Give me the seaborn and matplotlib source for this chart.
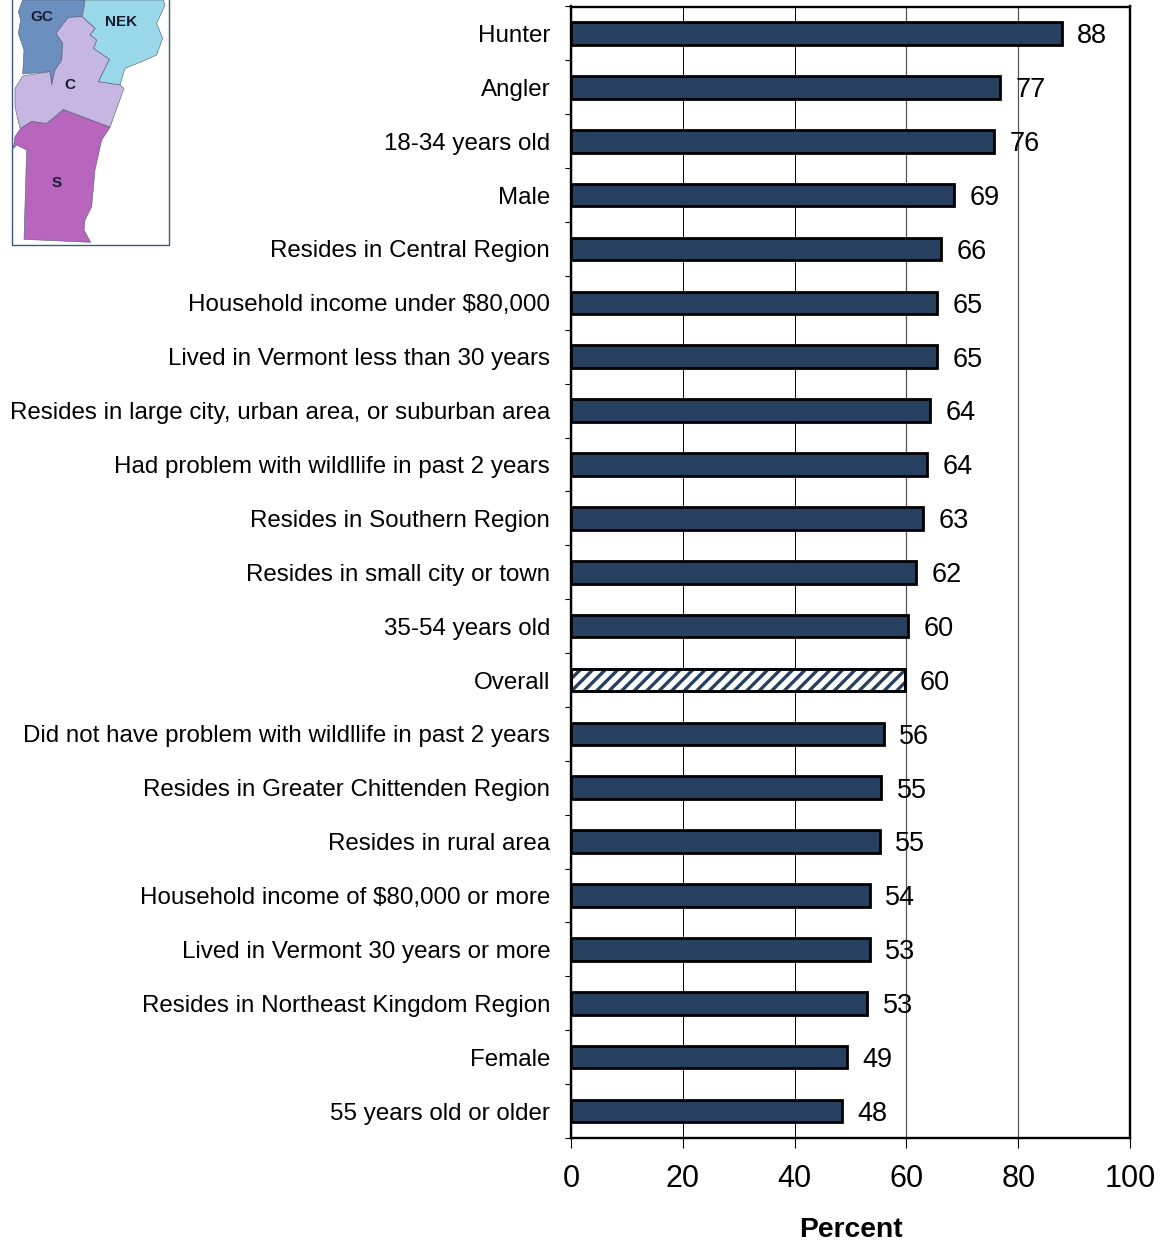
import numpy as np
import pandas as pd
import seaborn as sns
import matplotlib.pyplot as plt
import matplotlib.hatch as mhatch
from matplotlib.patches import Polygon

categories = ['Hunter', 'Angler', '18-34 years old', 'Male', 'Resides in Central Region',
              'Household income under $80,000', 'Lived in Vermont less than 30 years',
              'Resides in large city, urban area, or suburban area',
              'Had problem with wildllife in past 2 years', 'Resides in Southern Region',
              'Resides in small city or town', '35-54 years old', 'Overall',
              'Did not have problem with wildllife in past 2 years',
              'Resides in Greater Chittenden Region', 'Resides in rural area',
              'Household income of $80,000 or more', 'Lived in Vermont 30 years or more',
              'Resides in Northeast Kingdom Region', 'Female', '55 years old or older']
values = [87.8, 76.8, 75.7, 68.5, 66.2, 65.5, 65.5, 64.2, 63.7, 63.0, 61.7,
          60.3, 59.7, 56.0, 55.5, 55.3, 53.5, 53.5, 53.0, 49.4, 48.5]
labels = [88, 77, 76, 69, 66, 65, 65, 64, 64, 63, 62, 60, 60, 56, 55, 55, 54, 53, 53, 49, 48]
x_ticks = [0, 20, 40, 60, 80, 100]

# map outline, traced in pixels of the inset
gc_shape = [(68, 0), (55, 35), (62, 60), (55, 100), (72, 150), (68, 222), (150, 215), (155, 255),
            (165, 210), (185, 180), (188, 130), (168, 100), (205, 55), (245, 50), (255, 0)]
nek_shape = [(255, 0), (248, 50), (285, 85), (270, 105), (290, 120), (280, 145), (328, 178),
             (295, 245), (360, 255), (375, 205), (425, 185), (470, 165), (488, 115), (470, 70),
             (495, 15), (490, 0)]
c_shape = [(205, 52), (168, 100), (188, 130), (185, 180), (165, 210), (155, 255), (150, 215),
           (68, 228), (45, 265), (45, 320), (60, 385), (95, 365), (140, 370), (190, 328),
           (330, 382), (345, 340), (372, 265), (360, 255), (295, 245), (328, 178), (280, 145),
           (290, 120), (270, 105), (285, 85), (245, 50)]
s_shape = [(60, 388), (95, 365), (140, 372), (190, 330), (330, 382), (305, 420), (285, 510),
           (275, 620), (255, 660), (252, 690), (272, 727), (72, 718), (80, 450), (50, 435),
           (40, 445), (45, 410)]

sns.set_style('white')
plt.rcParams['font.family'] = ['Liberation Sans', 'DejaVu Sans']
plt.rcParams['hatch.linewidth'] = 2.4

# default '/' hatch is too wide apart, '//' too tight
_ne_init = mhatch.NorthEastHatch.__init__
def ne_init(self, hatch, density):
    _ne_init(self, hatch, density)
    if self.num_lines:
        self.num_lines = 16
        self.num_vertices = (self.num_lines + 1) * 2
mhatch.NorthEastHatch.__init__ = ne_init

W, H = 1161, 1241
fig = plt.figure(figsize=(W / 100, H / 100), dpi=100)
ax = fig.add_axes([571 / W, 1 - 1138 / H, 559 / W, 1131.5 / H])

df = pd.DataFrame({'group': categories, 'percent': values})
sns.barplot(data=df, x='percent', y='group', color='#27405f', saturation=1, width=0.42,
            edgecolor='black', linewidth=2, ax=ax, zorder=3)

overall = ax.patches[categories.index('Overall')]
overall.set_facecolor('white')
overall.set_edgecolor('#27405f')
overall.set_hatch('/')
# black outline on top of the hatched bar
ax.add_patch(plt.Rectangle(overall.get_xy(), overall.get_width(), overall.get_height(),
                           fill=False, edgecolor='black', linewidth=2, zorder=4))

for i, lab in enumerate(labels):
    ax.annotate(str(lab), (values[i], i), xytext=(11, -2), textcoords='offset points',
                va='center', ha='left', fontsize=19.5, color='black', zorder=5)

ax.set_xlim(0, 100)
ax.set_ylim(20.5, -0.5)
ax.set_xticks(x_ticks)
ax.xaxis.grid(True, color='#555555', linewidth=0.9)
for val, line in zip(x_ticks, ax.get_xgridlines()):
    if val in (20, 40):
        line.set_color('black')
        line.set_linewidth(0.7)
ax.set_axisbelow(True)
ax.tick_params(axis='x', length=7, width=0.8, color='black', labelsize=22, labelcolor='black', pad=11.5, bottom=True)
ax.tick_params(axis='y', which='major', length=0, labelsize=17.35, labelcolor='black', pad=15)
ax.set_yticks(np.arange(-0.5, 21), minor=True)
ax.tick_params(axis='y', which='minor', length=4.5, width=0.8, color='black', left=True)
ax.set_ylabel('')
ax.set_xlabel('Percent', fontsize=20.3, fontweight='bold', color='black', labelpad=16.5)
for side in ['left', 'bottom', 'right', 'top']:
    ax.spines[side].set_visible(True)
    ax.spines[side].set_color('black')
    ax.spines[side].set_linewidth(1.7)

# inset map, drawn in pixel coordinates
map_ax = fig.add_axes([0, 1 - 260 / H, 200 / W, 260 / H])
map_ax.set_xlim(0, 600)
map_ax.set_ylim(780, 0)
map_ax.axis('off')
map_ax.patch.set_alpha(0)
map_ax.plot([35, 35, 508, 508], [0, 735, 735, 0], color='#3d5a80', linewidth=1.0)
for shape, col in [(gc_shape, '#6b8fbf'), (nek_shape, '#98d8e8'), (c_shape, '#c6b6e2'), (s_shape, '#b866bd')]:
    map_ax.add_patch(Polygon(shape, closed=True, facecolor=col, edgecolor='#555577', linewidth=0.4))
for name, tx, ty in [('GC', 125, 52), ('NEK', 362, 65), ('C', 210, 255), ('S', 170, 550)]:
    map_ax.text(tx, ty, name, ha='center', va='center', fontsize=11, fontweight='bold', color='#1a1a2e')

plt.savefig('out.png', dpi=100)
